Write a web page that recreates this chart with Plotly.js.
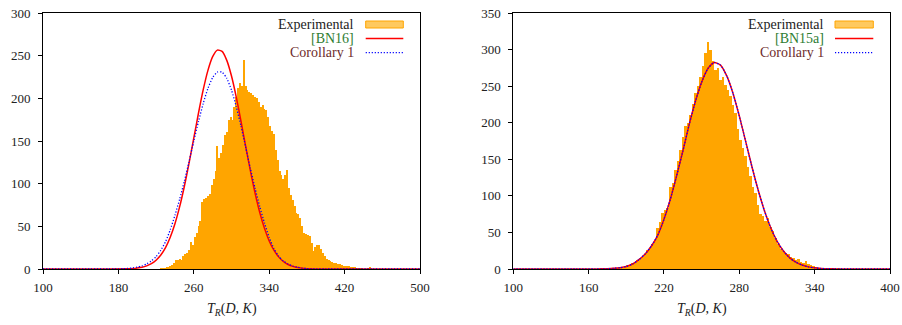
<!DOCTYPE html>
<html><head><meta charset="utf-8">
<script src="https://cdn.plot.ly/plotly-3.0.1.min.js"></script>
<style>html,body{margin:0;padding:0;background:#fff}#chart{width:902px;height:325px}</style>
</head><body><div id="chart"></div>
<script>
// ---------- data ----------
const leftBinStart = 220, leftBinWidth = 2;
const leftCounts = [0.5,0.5,1,1,1,2,2,4,5,7,
  10,11,12,10,15,17,19,22,32,28,
  38,42,50,56,78,82,83,85,88,98,
  106,115,144,130,136,145,157,160,175,178,
  175,190,202,212,218,214,245,215,210,208,
  206,204,202,200,196,190,192,188,186,178,
  167,162,158,140,128,115,110,106,110,116,
  95,87,81,74,66,64,60,50,42,41,
  40,39,30,21,26,28,28,24,19,15,
  12,11,9,8,7,7,6,6,5,4,
  4,3,3,2.5,2,2.5,1.5,1.5,1,1,
  0.5,0.5,1,2,0.5,0.5];

const leftCurveX = [100,150,190,195,200,205,210,215,220,225,230,235,240,245,250,255,260,265,270,275,280,285,290,295,300,305,310,315,320,325,330,335,340,345,350,355,360,365,370,375,380,385,390,450,500];
const leftBN16 = [0,0,0.2,0.4,1.1,2.1,3.7,6.2,10.3,16.4,25.1,37.2,53.1,73.1,97,124.3,153.5,182.8,210.1,232.8,248.8,256.5,255,244.5,226.2,201.8,173.5,144,115.3,89,66.2,47.6,32.9,22,14.2,8.8,5.3,3.1,1.7,0.9,0.4,0.2,0,0,0];

const leftCorX = [100,150,170,175,180,185,190,195,200,205,210,215,220,225,230,235,240,245,250,255,260,265,270,275,280,285,290,295,300,305,310,315,320,325,330,335,340,345,350,355,360,365,370,375,380,385,390,400,450,500];
const leftCor = [0,0,0.05,0.1,0.15,0.35,0.7,1.3,2.2,3.7,6,9.5,14.5,22,32,46,63,82,103,126,150,173,194,211.7,224.2,230.8,230.7,223.4,209.6,190.5,167.7,143,118,94.5,73,54,37,24,15,9.5,6,3.5,2,1,0.5,0.2,0.1,0,0,0];

const rightBinStart = 182, rightBinWidth = 2;
const rightCounts = [1,1.5,2,3,5,6,8,10,12,14,
  17,21,26,29,34,40,56,64,76,80,
  84,112,118,136,148,163,180,195,200,211,
  225,240,250,262,277,295,311,300,285,272,
  275,258,262,252,245,236,224,213,192,177,
  166,154,140,127,112,104,88,75,72,66,
  70,58,52,42,34,28,24,22,20,17,
  15,12,13,9,8,11,7,5,4,3,
  2,1.5,1,0.5,0.5,0.3,0.5,0.3,1];

const rightCurveX = [100,150,165,170,175,180,185,190,195,200,205,210,215,220,225,230,235,240,245,250,255,260,265,270,275,280,285,290,295,300,305,310,315,320,325,330,335,340,345,350,355,360,370,400];
const rightBN15a = [0,0,0.1,0.2,0.4,0.9,1.8,3.4,6.8,12.7,20.5,31.5,46,68,95,127,161,197,229,255.4,274.1,282.3,278.8,264,240,209.1,174.8,140.2,107.9,79.6,56.3,38.2,24.9,15.5,9.3,5.4,2.9,1.6,0.8,0.4,0.2,0.1,0,0];
const rightCor = [0,0,0.1,0.2,0.4,0.9,1.8,3.4,6.8,12.7,20.5,31.5,46,68,95,127,161,197,229,255.4,274.1,282.3,278.8,264,240,209.1,174.8,140.2,107.9,79.6,56.3,38.2,24.9,15.5,9.3,5.4,2.9,1.6,0.8,0.4,0.2,0.1,0,0];

const leftTicksX = [100,180,260,340,420,500];
const rightTicksX = [100,160,220,280,340,400];
const leftTicksY = [0,50,100,150,200,250,300];
const rightTicksY = [0,50,100,150,200,250,300,350];
const legendLeft = ['Experimental', '[BN16]', 'Corollary 1'];
const legendRight = ['Experimental', '[BN15a]', 'Corollary 1'];
const legendColors = ['#222222', '#2e7d32', '#6e2b2b'];

// ---------- build ----------
const centers = (start, w, n) => Array.from({length: n}, (_, i) => start + w * (i + 0.5));
const FONT = '"Liberation Serif", "DejaVu Serif", serif';
const ORANGE = '#ffa500';

function bars(start, w, counts, xa, ya) {
  return {type: 'bar', x: centers(start, w, counts.length), y: counts, width: w,
    xaxis: xa, yaxis: ya, marker: {color: ORANGE, line: {width: 0}},
    hoverinfo: 'skip', showlegend: false};
}
function curve(x, y, xa, ya, color, dash, wd) {
  return {type: 'scatter', mode: 'lines', x: x, y: y, xaxis: xa, yaxis: ya,
    line: {color: color, width: wd, dash: dash, shape: 'spline', smoothing: 0.6}, showlegend: false};
}

const BLUE_DASH = '1.2px,1.8px';
const traces = [
  bars(leftBinStart, leftBinWidth, leftCounts, 'x', 'y'),
  curve(leftCurveX, leftBN16, 'x', 'y', '#ff0000', 'solid', 1.5),
  curve(leftCorX, leftCor, 'x', 'y', '#0000ff', BLUE_DASH, 1.3),
  bars(rightBinStart, rightBinWidth, rightCounts, 'x2', 'y2'),
  curve(rightCurveX, rightBN15a, 'x2', 'y2', '#ff0000', 'solid', 1.5),
  curve(rightCurveX, rightCor, 'x2', 'y2', '#0000ff', BLUE_DASH, 1.3)
];

const L = 43, T = 13, W = 847, H = 256;
const px = p => (p - L) / W;
const py = p => 1 - (p - T) / H;

function axis(range, ticks, domain, anchor, standoff) {
  const a = {range: range, tickvals: ticks, ticktext: ticks.map(String), showgrid: false, zeroline: false,
    showline: true, mirror: true, linecolor: '#000', linewidth: 1,
    ticks: 'outside', ticklen: 4, tickcolor: '#000', tickwidth: 1,
    tickfont: {family: FONT, size: 13, color: '#222'}, ticklabelstandoff: standoff,
    fixedrange: true, layer: 'below traces'};
  if (domain) a.domain = domain;
  if (anchor) a.anchor = anchor;
  return a;
}

const annotations = [];
const shapes = [];
function legend(labels, textRight, s0, s1) {
  const ys = [24.3, 38.3, 52.3];
  labels.forEach((t, i) => annotations.push({xref: 'paper', yref: 'paper', x: px(textRight), y: py(ys[i]),
    xanchor: 'right', yanchor: 'middle', showarrow: false, text: t,
    font: {family: FONT, size: 14, color: legendColors[i]}}));
  shapes.push({type: 'rect', xref: 'paper', yref: 'paper', x0: px(s0), x1: px(s1), y0: py(28), y1: py(21),
    fillcolor: '#ffc95e', line: {color: ORANGE, width: 1}});
  shapes.push({type: 'line', xref: 'paper', yref: 'paper', x0: px(s0), x1: px(s1), y0: py(38.6), y1: py(38.6),
    line: {color: '#ff0000', width: 1.5}});
  shapes.push({type: 'line', xref: 'paper', yref: 'paper', x0: px(s0), x1: px(s1), y0: py(52.6), y1: py(52.6),
    line: {color: '#0000ff', width: 1.3, dash: BLUE_DASH}});
}
legend(legendLeft, 356, 365.7, 403.3);
legend(legendRight, 826, 835, 873.3);

const xTitle = '<i>T</i><sub><i>R</i></sub>(<i>D</i>, <i>K</i>)';
[231.7, 701.7].forEach(c => annotations.push({xref: 'paper', yref: 'paper', x: px(c), y: py(309),
  xanchor: 'center', yanchor: 'middle', showarrow: false, text: xTitle,
  font: {family: FONT, size: 14, color: '#222'}}));

const layout = {
  width: 902, height: 325, margin: {l: L, r: 12, t: T, b: 56},
  paper_bgcolor: '#fff', plot_bgcolor: '#fff', bargap: 0, showlegend: false,
  font: {family: FONT, color: '#222'},
  xaxis: axis([100, 500], leftTicksX, [0, px(420)], 'y', 2),
  yaxis: axis([0, 300], leftTicksY, null, 'x', 5),
  xaxis2: axis([100, 400], rightTicksX, [px(513.3), 1], 'y2', 2),
  yaxis2: axis([0, 350], rightTicksY, null, 'x2', 5),
  annotations: annotations, shapes: shapes
};

Plotly.newPlot('chart', traces, layout, {staticPlot: true, displayModeBar: false});
</script></body></html>
